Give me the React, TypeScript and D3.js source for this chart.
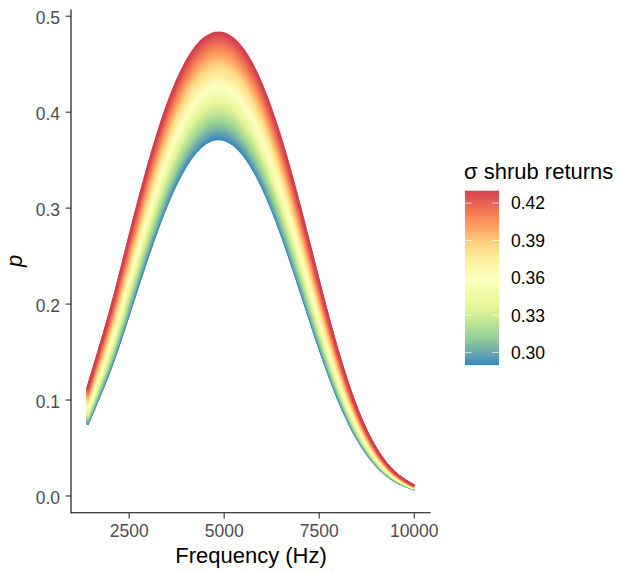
import React from 'react';
import * as d3 from 'd3';

const frequency = [1400, 2000, 2500, 3000, 3500, 4000, 4500, 5000, 5500, 6000, 6500, 7000, 7500, 8000, 8500, 9000, 9500, 10000];

// sigma of shrub returns for each read curve
const sigmaLevels = [0.29, 0.31, 0.33, 0.35, 0.37, 0.39, 0.41, 0.43];

// p for each sigma level
const p029 = [0.0742, 0.1315, 0.1898, 0.25, 0.3037, 0.3441, 0.3672, 0.3711, 0.3556, 0.3217, 0.2727, 0.2141, 0.154, 0.1006, 0.0594, 0.0318, 0.0154, 0.0068];
const p031 = [0.079, 0.1393, 0.2004, 0.2628, 0.3181, 0.3595, 0.383, 0.387, 0.3712, 0.3366, 0.2863, 0.2257, 0.163, 0.1069, 0.0633, 0.0339, 0.0165, 0.0073];
const p033 = [0.0839, 0.1474, 0.2112, 0.2759, 0.3326, 0.3748, 0.3987, 0.4028, 0.3867, 0.3515, 0.3, 0.2375, 0.1722, 0.1133, 0.0673, 0.0361, 0.0176, 0.0078];
const p035 = [0.0891, 0.1559, 0.2223, 0.2892, 0.3474, 0.3903, 0.4146, 0.4187, 0.4024, 0.3667, 0.3139, 0.2496, 0.1818, 0.1201, 0.0716, 0.0385, 0.0188, 0.0083];
const p037 = [0.0945, 0.1646, 0.2337, 0.3026, 0.3622, 0.4058, 0.4303, 0.4345, 0.418, 0.3818, 0.328, 0.2618, 0.1916, 0.1271, 0.076, 0.041, 0.02, 0.0089];
const p039 = [0.1002, 0.1736, 0.2454, 0.3164, 0.3772, 0.4215, 0.4462, 0.4504, 0.4338, 0.3971, 0.3424, 0.2745, 0.2018, 0.1344, 0.0806, 0.0436, 0.0213, 0.0095];
const p041 = [0.106, 0.183, 0.2574, 0.3303, 0.3922, 0.437, 0.462, 0.4662, 0.4495, 0.4124, 0.3568, 0.2873, 0.2122, 0.142, 0.0855, 0.0463, 0.0227, 0.0101];
const p043 = [0.1122, 0.1927, 0.2698, 0.3446, 0.4075, 0.4528, 0.4779, 0.4821, 0.4653, 0.428, 0.3716, 0.3006, 0.2231, 0.1499, 0.0906, 0.0492, 0.0241, 0.0107];
const curves = [p029, p031, p033, p035, p037, p039, p041, p043];

const xTicks = [2500, 5000, 7500, 10000];
const yTicks = [0, 0.1, 0.2, 0.3, 0.4, 0.5];
const legendTicks = [0.3, 0.33, 0.36, 0.39, 0.42];

const spectral = ['#3288BD', '#99D594', '#E6F598', '#FFFFBF', '#FEE08B', '#FC8D59', '#D53E4F'];
const font = '"Liberation Sans", Arial, sans-serif';

export default function App() {
  const width = 617;
  const height = 573;

  const x = d3.scaleLinear().domain([970, 10430]).range([71, 430.6]);
  const y = d3.scaleLinear().domain([-0.017, 0.507]).range([512.3, 9.5]);

  const sMin = sigmaLevels[0];
  const sMax = sigmaLevels[sigmaLevels.length - 1];
  const color = d3
    .scaleLinear<string>()
    .domain(spectral.map((_, i) => sMin + (i * (sMax - sMin)) / (spectral.length - 1)))
    .range(spectral)
    .interpolate(d3.interpolateLab);

  const line = d3
    .line<number>()
    .x((_, i) => x(frequency[i]))
    .y(v => y(v))
    .curve(d3.curveNatural);

  // shade between neighbouring read curves so the band looks continuous
  const steps = 14;
  const strands: { sigma: number; vals: number[] }[] = [];
  for (let k = 0; k < curves.length - 1; k++) {
    for (let s = 0; s < steps; s++) {
      const t = s / steps;
      const sigma = d3.interpolateNumber(sigmaLevels[k], sigmaLevels[k + 1])(t);
      const vals = curves[k].map((v, i) => d3.interpolateNumber(v, curves[k + 1][i])(t));
      strands.push({ sigma, vals });
    }
  }
  strands.push({ sigma: sMax, vals: curves[curves.length - 1] });

  // legend
  const barX = 465;
  const barW = 34;
  const ly = d3.scaleLinear().domain([sMin, sMax]).range([365, 190.7]);
  const gradStops = d3.range(0, 21).map(i => i / 20);

  return (
    <svg
      width={width}
      height={height}
      style={{ position: 'absolute', left: 0, top: 0, background: '#fff' }}
      fontFamily={font}
    >
      <defs>
        <linearGradient id="sigmaGrad" x1="0" y1="1" x2="0" y2="0">
          {gradStops.map(t => (
            <stop key={t} offset={t} stopColor={color(sMin + t * (sMax - sMin))} />
          ))}
        </linearGradient>
      </defs>

      {strands.map((d, i) => (
        <path key={i} d={line(d.vals) || ''} fill="none" stroke={color(d.sigma)} strokeWidth={2.2} />
      ))}

      {/* axes */}
      <line x1={71} x2={430.6} y1={512.8} y2={512.8} stroke="#000" strokeWidth={1.1} />
      <line x1={71} x2={71} y1={9.5} y2={513.3} stroke="#000" strokeWidth={1.1} />
      {xTicks.map(t => (
        <g key={t}>
          <line x1={x(t)} x2={x(t)} y1={513} y2={518.5} stroke="#333" strokeWidth={1.1} />
          <text x={x(t)} y={537} textAnchor="middle" fontSize={17.5} fill="#4D4D4D">
            {t}
          </text>
        </g>
      ))}
      {yTicks.map(t => (
        <g key={t}>
          <line x1={65.5} x2={71} y1={y(t)} y2={y(t)} stroke="#333" strokeWidth={1.1} />
          <text x={60} y={y(t)} dy="0.45em" textAnchor="end" fontSize={17.5} fill="#4D4D4D">
            {t.toFixed(1)}
          </text>
        </g>
      ))}
      <text x={251} y={563} textAnchor="middle" fontSize={22} fill="#000">
        Frequency (Hz)
      </text>
      <text
        transform={`translate(22,${(9.5 + 512.3) / 2}) rotate(-90)`}
        textAnchor="middle"
        fontSize={22}
        fontStyle="italic"
        fill="#000"
      >
        p
      </text>

      {/* colour bar legend */}
      <text x={barX - 1} y={179} fontSize={22} fill="#000">
        σ shrub returns
      </text>
      <rect x={barX} y={190.7} width={barW} height={365 - 190.7} fill="url(#sigmaGrad)" />
      {legendTicks.map(t => (
        <g key={t}>
          <line x1={barX} x2={barX + barW / 5} y1={ly(t)} y2={ly(t)} stroke="#fff" strokeOpacity={0.7} strokeWidth={1} />
          <line x1={barX + barW - barW / 5} x2={barX + barW} y1={ly(t)} y2={ly(t)} stroke="#fff" strokeOpacity={0.7} strokeWidth={1} />
          <text x={511} y={ly(t)} dy="0.36em" fontSize={17.5} fill="#000">
            {t.toFixed(2)}
          </text>
        </g>
      ))}
    </svg>
  );
}
